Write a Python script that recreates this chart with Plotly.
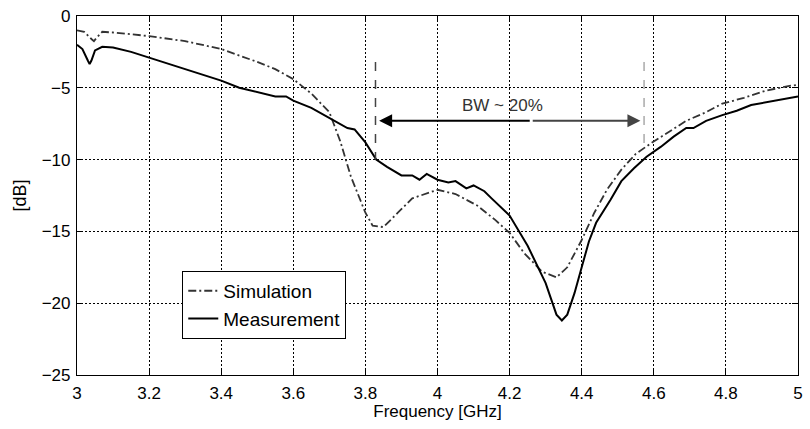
import plotly.graph_objects as go

# ---- data ----
meas_f = [3.0, 3.015, 3.03, 3.035, 3.04, 3.05, 3.07, 3.1, 3.15, 3.2, 3.25, 3.3, 3.35, 3.4,
          3.45, 3.5, 3.55, 3.58, 3.6, 3.65, 3.7, 3.75, 3.77, 3.8, 3.83, 3.86, 3.9, 3.93,
          3.95, 3.97, 4.0, 4.03, 4.05, 4.08, 4.1, 4.13, 4.15, 4.2, 4.25, 4.3, 4.33, 4.345,
          4.36, 4.38, 4.4, 4.42, 4.44, 4.48, 4.51, 4.545, 4.58, 4.62, 4.655, 4.69, 4.71,
          4.745, 4.79, 4.83, 4.87, 4.93, 4.98, 5.0]
meas_db = [-2.0, -2.3, -3.1, -3.35, -3.1, -2.4, -2.15, -2.2, -2.5, -2.9, -3.3, -3.7, -4.1, -4.5,
           -5.0, -5.3, -5.6, -5.6, -5.9, -6.4, -7.1, -7.8, -7.9, -8.8, -10.0, -10.5, -11.1, -11.1,
           -11.4, -11.0, -11.4, -11.6, -11.5, -12.0, -11.8, -12.2, -12.7, -13.9, -16.0, -18.6, -20.8, -21.2,
           -20.8, -19.3, -17.5, -15.7, -14.4, -12.8, -11.5, -10.6, -9.8, -9.1, -8.4, -7.8, -7.8,
           -7.3, -6.9, -6.6, -6.2, -5.9, -5.65, -5.6]

sim_f = [3.0, 3.02, 3.04, 3.047, 3.055, 3.07, 3.1, 3.2, 3.3, 3.4, 3.5, 3.55, 3.6, 3.65, 3.7,
         3.73, 3.76, 3.8, 3.82, 3.85, 3.89, 3.93, 4.0, 4.05, 4.11, 4.16, 4.2, 4.24, 4.29, 4.33,
         4.36, 4.4, 4.435, 4.47, 4.51, 4.55, 4.59, 4.64, 4.69, 4.745, 4.79, 4.85, 4.91, 4.98, 5.0]
sim_db = [-1.0, -1.1, -1.6, -1.75, -1.5, -1.1, -1.15, -1.4, -1.75, -2.3, -3.2, -3.7, -4.4, -5.4, -6.7,
          -8.7, -11.2, -13.7, -14.6, -14.7, -13.7, -12.7, -12.1, -12.4, -13.2, -14.2, -15.1, -16.5, -17.8, -18.2,
          -17.5, -15.6, -13.7, -12.1, -10.7, -9.6, -8.9, -8.1, -7.3, -6.7, -6.1, -5.7, -5.2, -4.85, -4.8]

x_ticks = [3, 3.2, 3.4, 3.6, 3.8, 4, 4.2, 4.4, 4.6, 4.8, 5]
x_tick_labels = ["3", "3.2", "3.4", "3.6", "3.8", "4", "4.2", "4.4", "4.6", "4.8", "5"]
y_ticks = [0, -5, -10, -15, -20, -25]

bw_low, bw_high = 3.828, 4.573
bw_top = -3.2
bw_low_bottom, bw_high_bottom = -10.0, -9.4
bw_arrow_level = -7.3
bw_mid = 4.26
bw_label = "BW ~ 20%"

FONT = "Liberation Sans, Arial, sans-serif"

fig = go.Figure()
fig.add_trace(go.Scatter(x=sim_f, y=sim_db, mode="lines", name="Simulation",
                         line=dict(color="#333333", width=1.8, dash="8px,3px,2px,3px")))
fig.add_trace(go.Scatter(x=meas_f, y=meas_db, mode="lines", name="Measurement",
                         line=dict(color="black", width=2)))

# BW markers
fig.add_shape(type="line", x0=bw_low, x1=bw_low, y0=bw_top, y1=bw_low_bottom,
              line=dict(color="#444444", width=1.5, dash="dash"))
fig.add_shape(type="line", x0=bw_high, x1=bw_high, y0=bw_top, y1=bw_high_bottom,
              line=dict(color="#aaaaaa", width=1.5, dash="dash"))
fig.add_annotation(x=bw_low + 0.01, y=bw_arrow_level, ax=bw_mid, ay=bw_arrow_level,
                   xref="x", yref="y", axref="x", ayref="y", text="", showarrow=True,
                   arrowhead=2, arrowsize=1.3, arrowwidth=2, arrowcolor="black")
fig.add_annotation(x=bw_high - 0.01, y=bw_arrow_level, ax=bw_mid, ay=bw_arrow_level,
                   xref="x", yref="y", axref="x", ayref="y", text="", showarrow=True,
                   arrowhead=2, arrowsize=1.3, arrowwidth=2, arrowcolor="#444444")
fig.add_annotation(x=(bw_low + bw_high) / 2 - 0.02, y=bw_arrow_level + 1.1, text=bw_label,
                   showarrow=False, font=dict(family=FONT, size=17, color="#333333"))

axis_common = dict(showline=True, linecolor="black", linewidth=1.2, mirror="ticks",
                   ticks="inside", ticklen=6, tickcolor="black", showgrid=True,
                   gridcolor="black", gridwidth=1, griddash="2px,2px", zeroline=False,
                   tickfont=dict(family=FONT, size=17, color="black"))

fig.update_xaxes(range=[3, 5], tickvals=x_ticks, ticktext=x_tick_labels,
                 title=dict(text="Frequency [GHz]", font=dict(family=FONT, size=17, color="black"),
                            standoff=2),
                 ticklabelstandoff=2, **axis_common)
fig.update_yaxes(range=[-25, 0], tickvals=y_ticks,
                 title=dict(text="[dB]", font=dict(family=FONT, size=18, color="black"), standoff=10),
                 ticklabelstandoff=2, **axis_common)

fig.update_layout(
    width=810, height=429,
    margin=dict(l=77, r=7, t=15, b=54),
    paper_bgcolor="white", plot_bgcolor="white",
    font=dict(family=FONT, size=17, color="black"),
    showlegend=True,
    legend=dict(x=0.146, y=0.29, xanchor="left", yanchor="top",
                bgcolor="white", bordercolor="black", borderwidth=1,
                font=dict(family=FONT, size=19, color="black"),
                tracegroupgap=0, itemwidth=30),
)

fig.write_html("out.html")
